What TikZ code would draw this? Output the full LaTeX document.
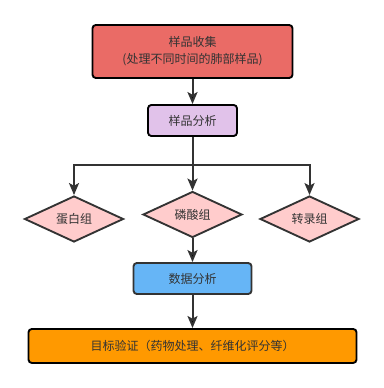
\documentclass[tikz,border=0pt]{standalone}
\usepackage{fontspec}
\setmainfont{Noto Sans CJK SC}
\usetikzlibrary{positioning, arrows.meta, shapes.geometric}
\definecolor{collectred}{HTML}{EA6B66}
\definecolor{analysepurple}{HTML}{E1C2EA}
\definecolor{grouppink}{HTML}{FFCCCC}
\definecolor{databLue}{HTML}{66B5F6}
\definecolor{verifyorange}{HTML}{FF9900}
\definecolor{inkgray}{HTML}{333333}

\tikzset{
    box/.style={draw=black, line width=1.4pt, rounded corners=2.5pt, inner sep=0pt,
        text=inkgray, font=\fontsize{9pt}{12.75pt}\selectfont, align=center},
    group/.style={diamond, draw=inkgray, line width=1.4pt, inner sep=0pt, aspect=2,
        minimum width=74.25pt, minimum height=34.5pt, fill=grouppink, text=inkgray,
        font=\fontsize{9pt}{11pt}\selectfont},
    flow/.style={draw=inkgray, line width=1.5pt, -{Stealth[length=9pt, width=7.5pt, inset=2pt]}}
}

\begin{document}
\begin{tikzpicture}[x=0.75pt, y=-0.75pt, node distance=50pt, on grid]
    \useasboundingbox (0,0) rectangle (384,388);

    \node[box, fill=collectred, minimum width=150pt, minimum height=39.75pt] (collect) at (192.5,51.5)
        {样品收集\\(处理不同时间的肺部样品)};
    \node[box, fill=analysepurple, minimum width=66.75pt, minimum height=23.25pt] (analyse) [below=51.75pt of collect] {样品分析};
    \node[group] (phospho) [below=70.5pt of analyse] {磷酸组};
    \node[group] (protein) at (74,219) {蛋白组};
    \node[group] (transcript) at (309.5,219) {转录组};
    \node[box, draw=inkgray, fill=databLue, minimum width=88.5pt, minimum height=23.25pt] (data) [below=48pt of phospho] {数据分析};
    \node[box, fill=verifyorange, minimum width=246pt, minimum height=25.5pt] (verify) [below=50.6pt of data]
        {目标验证（药物处理、纤维化评分等）};

    \coordinate (split) at (192.5,165);

    \path[flow]
        (collect) edge (analyse)
        (phospho) edge (data)
        (data) edge (verify);
    \draw[flow] (analyse.south) -- (phospho.north);
    \draw[flow] (analyse.south) -- (split) -| (protein.north);
    \draw[flow] (analyse.south) -- (split) -| (transcript.north);
\end{tikzpicture}
\end{document}
